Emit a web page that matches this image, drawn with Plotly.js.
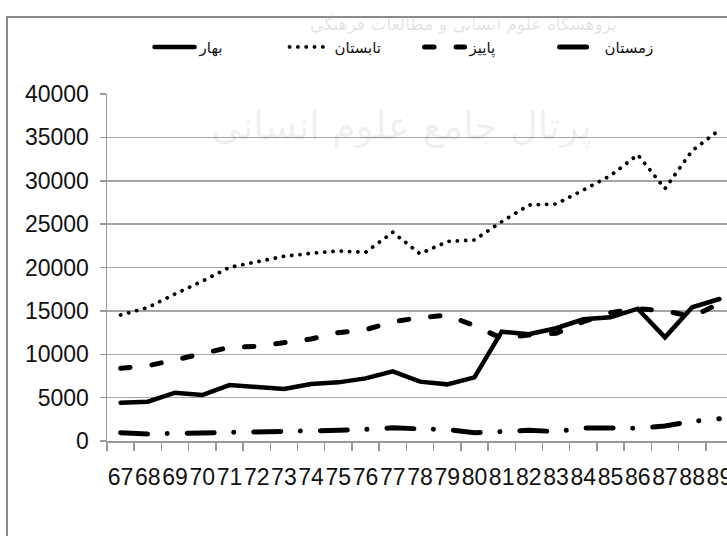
<!DOCTYPE html>
<html><head><meta charset="utf-8">
<script src="https://cdn.plot.ly/plotly-3.0.1.min.js"></script>
<style>
html,body{margin:0;padding:0;overflow:hidden;background:#fff;width:727px;height:536px;}
#chart{position:absolute;left:0;top:0;width:760px;height:560px;}
#frame{position:absolute;left:6px;top:16px;width:900px;height:700px;border:2px solid #8c8c8c;pointer-events:none;}
#chart path.js-line{stroke-linecap:round;}
</style></head><body>
<div id="chart"></div><div id="frame"></div>
<script>
const years = ['67','68','69','70','71','72','73','74','75','76','77','78','79','80','81','82','83','84','85','86','87','88','89'];
const bahar = [4420, 4530, 5570, 5300, 6450, 6260, 5990, 6570, 6760, 7220, 8030, 6840, 6530, 7340, 12600, 12300, 13000, 14030, 14260, 15250, 11950, 15410, 16370];
const tabestan = [14520, 15380, 16950, 18420, 20020, 20710, 21290, 21630, 21900, 21750, 24060, 21580, 22990, 23170, 25280, 27200, 27320, 28930, 30590, 33000, 29080, 33470, 35850];
const paeez = [8380, 8680, 9340, 10030, 10800, 10910, 11380, 11760, 12490, 12830, 13740, 14220, 14510, 13290, 11840, 12220, 12410, 13750, 14790, 15250, 15020, 14330, 15870];
const zemestan = [950, 820, 880, 920, 1040, 1070, 1080, 1150, 1230, 1340, 1520, 1400, 1320, 950, 1150, 1230, 1090, 1500, 1500, 1470, 1730, 2260, 2560];
const names = ['بهار', 'تابستان', 'پاییز', 'زمستان'];
const watermarkTop = 'پژوهشگاه علوم انسانی و مطالعات فرهنگی';
const watermarkMid = 'پرتال جامع علوم انسانی';

const FONT = 'Liberation Sans, Arial, DejaVu Sans, sans-serif';
const traces = [
  {x: years, y: bahar, name: names[0], mode: 'lines', line: {color: '#000', width: 4.5, dash: 'solid'}},
  {x: years, y: tabestan, name: names[1], mode: 'lines', line: {color: '#000', width: 3.8, dash: '0.1px,8.2px'}},
  {x: years, y: paeez, name: names[2], mode: 'lines', line: {color: '#000', width: 5, dash: '9.5px,22px'}},
  {x: years, y: zemestan, name: names[3], mode: 'lines', line: {color: '#000', width: 5, dash: '27px,19.5px,0.1px,20px'}}
];
const layout = {
  width: 760, height: 560,
  margin: {l: 107, r: 27.4, t: 94, b: 119},
  paper_bgcolor: 'rgba(0,0,0,0)', plot_bgcolor: '#fff',
  font: {family: FONT, color: '#111', size: 23},
  showlegend: true,
  legend: {orientation: 'h', x: 0.068, xanchor: 'left', y: 1.135, yanchor: 'middle',
           font: {size: 15, family: 'DejaVu Sans, sans-serif', color: '#111'},
           entrywidth: 80, entrywidthmode: 'pixels', itemwidth: 40,
           bgcolor: 'rgba(0,0,0,0)', traceorder: 'normal'},
  xaxis: {type: 'category', range: [-0.5, 22.5], tickson: 'boundaries', ticks: 'outside', ticklen: 8,
          tickmode: 'array', tickvals: years, ticktext: years, ticklabelstandoff: 15,
          tickcolor: '#999', tickwidth: 1.5, showline: true, linecolor: '#999', linewidth: 1.5,
          showgrid: false, tickangle: 0, tickfont: {size: 23, color: '#111'}, zeroline: false},
  yaxis: {range: [0, 40000], dtick: 5000, tickformat: 'd', ticks: 'outside', ticklen: 6,
          ticklabelstandoff: 6,
          tickcolor: '#999', tickwidth: 1.5, showline: true, linecolor: '#999', linewidth: 1.5,
          showgrid: true, gridcolor: '#a6a6a6', gridwidth: 1.5, zeroline: false,
          tickfont: {size: 23, color: '#111'}},
  annotations: [
    {text: watermarkTop, xref: 'paper', yref: 'paper', x: 0.57, y: 1.2, xanchor: 'center', yanchor: 'middle',
     showarrow: false, font: {size: 17, color: 'rgba(0,0,0,0.12)', family: 'DejaVu Sans, sans-serif'}},
    {text: watermarkMid, xref: 'paper', yref: 'paper', x: 0.47, y: 0.905, xanchor: 'center', yanchor: 'middle',
     showarrow: false, font: {size: 38, color: 'rgba(0,0,0,0.07)', family: 'DejaVu Sans, sans-serif'}}
  ]
};
Plotly.newPlot('chart', traces, layout, {displayModeBar: false, staticPlot: true});
</script>
</body></html>
